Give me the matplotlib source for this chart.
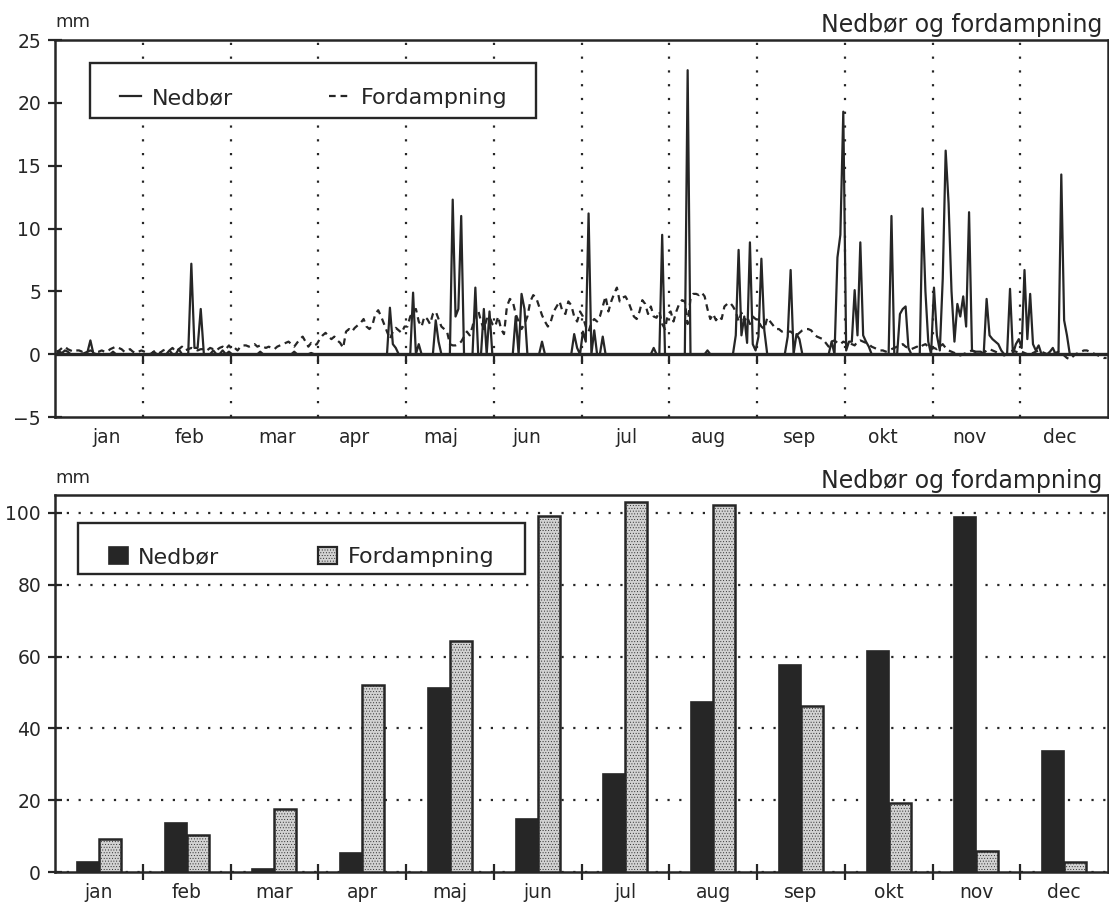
import numpy as np
import matplotlib
matplotlib.use('Agg')
import matplotlib.pyplot as plt
from matplotlib.patches import Rectangle, Patch
from matplotlib.lines import Line2D

maaneder = ['jan', 'feb', 'mar', 'apr', 'maj', 'jun',
            'jul', 'aug', 'sep', 'okt', 'nov', 'dec']
dage_i_maaned = [31, 28, 31, 30, 31, 30, 31, 31, 30, 31, 30, 31]

# daglig nedbør (mm), en liste pr. måned
ned_jan = [0, 0.2, 0.1, 0.3, 0.2, 0, 0, 0, 0, 0, 0.1, 0.2, 1.1, 0.1, 0, 0,
           0, 0, 0, 0, 0.2, 0, 0, 0, 0, 0, 0, 0, 0, 0, 0]
ned_feb = [0, 0, 0, 0.2, 0, 0, 0, 0, 0.3, 0, 0, 0.4, 0, 0, 0, 7.2, 0.5,
           0.5, 3.6, 0, 0, 0, 0.3, 0, 0, 0.3, 0, 0.2]
ned_mar = [0, 0, 0, 0, 0, 0, 0, 0, 0, 0, 0.2, 0, 0, 0, 0, 0, 0, 0, 0, 0,
           0, 0, 0.2, 0, 0, 0, 0, 0, 0.1, 0, 0]
ned_apr = [0, 0, 0, 0, 0, 0, 0, 0, 0, 0, 0, 0, 0, 0, 0, 0, 0, 0, 0, 0,
           0, 0, 0, 0, 3.7, 0.8, 0.5, 0, 0, 0]
ned_maj = [0, 0, 4.9, 0, 0.8, 0, 0, 0, 0, 0, 2.7, 1.0, 0, 0, 0, 0, 12.3,
           3.0, 3.6, 11.0, 0, 0, 0, 0, 5.3, 0, 0, 3.6, 0, 3.4, 0]
ned_jun = [0, 0, 0, 0, 0, 0, 0, 3.0, 0, 4.8, 3.6, 0, 0, 0, 0, 0, 1.0, 0,
           0, 0, 0, 0, 0, 0, 0, 0, 0, 1.6, 0.5, 0]
ned_jul = [1.8, 1.0, 11.2, 0, 1.9, 0, 0, 1.4, 0, 0, 0, 0, 0, 0, 0, 0, 0,
           0, 0, 0, 0, 0, 0, 0, 0, 0.5, 0, 0, 9.5, 0, 0]
ned_aug = [0, 0, 0, 0, 0, 0, 22.6, 0, 0, 0, 0, 0, 0, 0.3, 0, 0, 0, 0, 0,
           0, 0, 0, 0, 1.5, 8.3, 1.5, 3.0, 0.9, 8.9, 0.8, 0.3]
ned_sep = [1.4, 7.6, 1.9, 0, 0, 0, 0, 0, 0, 0, 1.4, 6.7, 0, 1.6, 1.2, 0,
           0, 0, 0, 0, 0, 0, 0, 0, 0, 1.0, 0, 7.7, 9.5, 19.3]
ned_okt = [0.3, 1.0, 1.0, 5.1, 1.5, 8.9, 1.5, 1.0, 0.6, 0, 0, 0, 0, 0, 0,
           0, 11.0, 0, 0, 3.2, 3.6, 3.8, 0.5, 0, 0, 0, 0, 11.6, 5.0, 1.0, 0]
ned_nov = [5.3, 1.5, 0.3, 6.0, 16.2, 12.0, 5.0, 1.0, 4.0, 3.0, 4.6, 2.2,
           11.3, 0.3, 0.2, 0.2, 0.2, 0, 4.4, 1.5, 1.2, 1.0, 0.8, 0.3, 0, 0,
           5.2, 0, 0.8, 1.2]
ned_dec = [0.5, 6.7, 1.2, 4.8, 0.8, 0.3, 0.7, 0, 0, 0, 0.2, 0.5, 0, 0,
           14.3, 2.7, 1.5, 0, 0, 0, 0, 0, 0, 0, 0, 0, 0, 0, 0, 0, 0]

# daglig fordampning (mm)
ford_jan = [0.2, 0.3, 0.5, 0.6, 0.4, 0.3, 0.2, 0.3, 0.3, 0.2, 0.3, 0.2,
            0.3, 0.2, 0.2, 0.2, 0.3, 0.2, 0.2, 0.4, 0.5, 0.6, 0.5, 0.4,
            0.2, 0.3, 0.4, 0.2, 0.1, 0.2, 0.3]
ford_feb = [0.2, 0.1, 0.0, 0.2, 0.3, 0.1, 0.3, 0.4, 0.3, 0.5, 0.2, 0.4,
            0.6, 0.3, 0.4, 0.5, 0.4, 0.3, 0.4, 0.4, 0.3, 0.5, 0.4, 0.3,
            0.5, 0.6, 0.4, 0.7]
ford_mar = [0.4, 0.5, 0.3, 0.6, 0.7, 0.7, 0.6, 0.7, 0.8, 0.6, 0.7, 0.6,
            0.5, 0.6, 0.5, 0.4, 0.6, 0.7, 0.8, 0.9, 1.0, 0.8, 0.6, 0.9,
            1.2, 1.4, 1.0, 0.6, 0.9, 0.7, 0.8]
ford_apr = [1.2, 1.5, 1.7, 1.4, 1.2, 1.4, 1.1, 0.9, 0.5, 1.8, 2.0, 1.8,
            2.1, 2.3, 2.5, 2.8, 2.2, 2.0, 2.3, 3.2, 3.5, 3.0, 2.4, 1.8,
            1.2, 1.8, 2.1, 1.9, 1.7, 2.2]
ford_maj = [2.2, 3.0, 3.4, 3.6, 2.6, 2.2, 3.0, 2.8, 2.4, 3.2, 3.4, 2.8,
            2.2, 2.0, 1.8, 0.8, 0.7, 0.7, 0.8, 1.0, 1.4, 1.8, 1.5, 2.2,
            3.2, 3.5, 2.6, 2.0, 2.8, 3.0, 2.4]
ford_jun = [2.2, 3.0, 2.0, 1.6, 3.8, 4.4, 4.2, 3.2, 2.6, 2.0, 2.4, 3.0,
            4.2, 4.7, 4.5, 3.8, 3.1, 2.6, 2.2, 2.6, 3.4, 3.8, 4.2, 3.4,
            3.2, 4.2, 3.9, 3.0, 2.6, 3.4]
ford_jul = [3.0, 2.2, 1.8, 2.5, 2.8, 2.6, 3.0, 3.8, 4.6, 3.4, 4.2, 4.8,
            5.3, 4.2, 4.5, 4.6, 4.2, 3.6, 3.0, 2.8, 3.4, 4.3, 4.0, 3.2,
            3.8, 3.0, 2.9, 3.4, 2.4, 2.0, 3.2]
ford_aug = [3.4, 2.6, 3.4, 4.0, 4.3, 4.2, 2.4, 4.4, 4.8, 4.8, 4.7, 4.9,
            4.6, 3.6, 2.8, 3.2, 2.7, 3.0, 2.8, 3.8, 4.0, 4.1, 3.8, 3.4,
            2.6, 3.3, 2.6, 3.0, 2.4, 3.0, 2.8]
ford_sep = [2.6, 2.2, 2.0, 2.9, 2.6, 2.3, 2.0, 2.0, 1.8, 1.9, 1.8, 1.8,
            1.6, 1.5, 1.7, 1.9, 2.0, 2.0, 1.9, 1.6, 1.4, 1.3, 1.2, 0.9,
            0.6, 1.0, 1.1, 0.9, 0.8, 1.0]
ford_okt = [0.9, 1.0, 0.8, 0.7, 1.0, 1.1, 1.0, 0.9, 0.8, 0.6, 0.5, 0.4,
            0.3, 0.3, 0.2, 0.3, 0.4, 0.5, 0.6, 0.7, 0.8, 0.6, 0.5, 0.4,
            0.5, 0.6, 0.5, 0.7, 0.8, 0.6, 0.4]
ford_nov = [0.5, 0.4, 0.6, 0.8, 0.5, 0.3, 0.2, 0.1, 0.0, -0.1, 0.0, 0.1,
            0.2, 0.3, 0.2, 0.1, 0.0, 0.1, 0.3, 0.4, 0.3, 0.2, 0.1, 0.0,
            -0.1, 0.0, 0.2, 0.3, 0.2, 0.1]
ford_dec = [0.2, 0.1, 0.0, -0.1, 0.1, 0.2, 0.3, 0.2, 0.1, 0.0, -0.1, 0.0,
            0.1, 0.2, 0.1, -0.1, -0.3, -0.4, -0.2, 0.0, 0.1, 0.2, 0.3, 0.3,
            0.2, 0.1, 0.0, -0.1, -0.2, -0.3, -0.3]

# månedssummer (mm)
nedbor_maaned = [2.9, 13.7, 0.8, 5.2, 51.3, 14.7, 27.2, 47.4, 57.8, 61.6, 98.8, 33.7]
fordampning_maaned = [9.2, 10.3, 17.6, 52.1, 64.4, 99.2, 103.2, 102.2, 46.2, 19.1, 5.8, 2.7]

# hvor månedsnavnene står under den daglige figur (målt i måneder)
top_label_pos = [0.59, 1.53, 2.53, 3.41, 4.40, 5.38, 6.51, 7.45, 8.48, 9.43, 10.42, 11.45]

INK = '#262626'
LYS = '#d2d2d2'

nedbor = np.concatenate([ned_jan, ned_feb, ned_mar, ned_apr, ned_maj, ned_jun,
                         ned_jul, ned_aug, ned_sep, ned_okt, ned_nov, ned_dec])
fordampning = np.concatenate([ford_jan, ford_feb, ford_mar, ford_apr, ford_maj,
                              ford_jun, ford_jul, ford_aug, ford_sep, ford_okt,
                              ford_nov, ford_dec])
# hver dag placeres midt i sin del af måneden, alle måneder lige brede
x_dag = np.concatenate([m + (np.arange(n) + 0.5) / n
                        for m, n in enumerate(dage_i_maaned)])

plt.rcParams['font.family'] = 'DejaVu Sans'
plt.rcParams['hatch.linewidth'] = 0.35
plt.rcParams['text.color'] = INK

fig = plt.figure(figsize=(11.09, 9.06), dpi=100)
ax1 = fig.add_axes([0.0496, 0.5397, 0.9495, 0.4161])
ax2 = fig.add_axes([0.0496, 0.0375, 0.9495, 0.4161])

# ---- daglig nedbør og fordampning ----
for b in range(1, 12):
    ax1.axvline(b, color=INK, lw=1.6, ls=(0, (1, 5.2)), zorder=1)
ax1.vlines(range(1, 12), -0.8, 0, color=INK, lw=1.6, zorder=2)
ax1.axhline(0, color=INK, lw=2.4, zorder=2)
ax1.plot(x_dag, fordampning, color=INK, lw=1.6, dashes=(3.0, 2.2), zorder=3)
ax1.plot(x_dag, nedbor, color=INK, lw=1.6, zorder=4)

ax1.set_xlim(0, 12)
ax1.set_ylim(-5, 25)
ax1.set_yticks([-5, 0, 5, 10, 15, 20, 25])
ax1.set_xticks(top_label_pos, maaneder)
ax1.tick_params(axis='x', length=0, pad=8, labelsize=13.5, labelcolor=INK)
ax1.tick_params(axis='y', direction='inout', length=10, width=1.6, pad=5,
                labelsize=13.5, color=INK, labelcolor=INK)

ax1.add_patch(Rectangle((0.033, 0.793), 0.424, 0.146, transform=ax1.transAxes,
                        facecolor='white', edgecolor=INK, lw=1.7, zorder=5))
h1 = Line2D([], [], color=INK, lw=1.6)
h2 = Line2D([], [], color=INK, lw=1.6, dashes=(3.0, 2.2))
leg1 = ax1.legend([h1, h2], ['Nedbør', 'Fordampning'], loc='center left',
                  bbox_to_anchor=(0.0617, 0.846), ncol=2, frameon=False,
                  fontsize=16, handlelength=0.95, handletextpad=0.5,
                  columnspacing=4.3, borderpad=0, borderaxespad=0)
leg1.set_zorder(6)

ax1.text(0.0, 1.034, 'mm', transform=ax1.transAxes, ha='left',
         va='baseline', fontsize=13)
ax1.text(0.9943, 1.021, 'Nedbør og fordampning', transform=ax1.transAxes,
         ha='right', va='baseline', fontsize=17)

# ---- månedssummer ----
x_m = np.arange(12) + 0.5
ax2.set_axisbelow(True)
ax2.yaxis.grid(True, color=INK, lw=1.6, ls=(0, (1, 4.3)))
ax2.bar(x_m - 0.125, nedbor_maaned, 0.25, color=INK, edgecolor=INK,
        lw=1.2, zorder=3)
ax2.bar(x_m + 0.125, fordampning_maaned, 0.25, color=LYS, edgecolor=INK,
        lw=1.8, hatch='......', zorder=3)

ax2.set_xlim(0, 12)
ax2.set_ylim(0, 105)
ax2.set_yticks([0, 20, 40, 60, 80, 100])
ax2.set_xticks(range(1, 12))
ax2.set_xticklabels([])
ax2.set_xticks(x_m, maaneder, minor=True)
ax2.tick_params(axis='x', which='major', direction='inout', length=12,
                width=1.6, color=INK)
ax2.tick_params(axis='x', which='minor', length=0, pad=8, labelsize=13.5,
                labelcolor=INK)
ax2.tick_params(axis='y', direction='inout', length=10, width=1.6, pad=5,
                labelsize=13.5, color=INK, labelcolor=INK)

ax2.add_patch(Rectangle((0.0214, 0.790), 0.4254, 0.136, transform=ax2.transAxes,
                        facecolor='white', edgecolor=INK, lw=1.7, zorder=5))
p1 = Patch(facecolor=INK, edgecolor=INK, lw=1.2)
p2 = Patch(facecolor=LYS, edgecolor=INK, lw=1.6, hatch='......')
leg2 = ax2.legend([p1, p2], ['Nedbør', 'Fordampning'], loc='center left',
                  bbox_to_anchor=(0.0513, 0.836), ncol=2, frameon=False,
                  fontsize=16, handlelength=0.85, handleheight=0.85,
                  handletextpad=0.47, columnspacing=4.45, borderpad=0,
                  borderaxespad=0)
leg2.set_zorder(6)

ax2.text(0.0, 1.032, 'mm', transform=ax2.transAxes, ha='left',
         va='baseline', fontsize=13)
ax2.text(0.9943, 1.019, 'Nedbør og fordampning', transform=ax2.transAxes,
         ha='right', va='baseline', fontsize=17)

for ax in (ax1, ax2):
    for s in ax.spines.values():
        s.set_color(INK)
        s.set_linewidth(1.8)

fig.savefig('out.png', dpi=100)
